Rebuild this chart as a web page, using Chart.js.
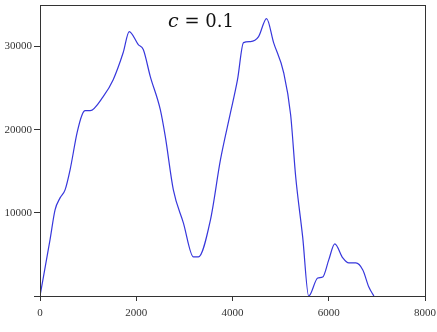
<!DOCTYPE html>
<html lang="en">
<head>
    <meta charset="UTF-8">
    <title>c = 0.1</title>
    <script src="https://cdn.jsdelivr.net/npm/chart.js"></script>
    <style>
        html, body {
            margin: 0;
            padding: 0;
            background: #fff;
        }
        #chartBox {
            width: 437px;
            height: 332px;
        }
    </style>
</head>
<body>
    <div id="chartBox">
        <canvas id="curveChart"></canvas>
    </div>

    <script>
        // values
        const xValues = [0, 208, 313, 417, 521, 625, 771, 875, 938, 1042, 1313, 1521, 1729, 1854,
            2042, 2146, 2292, 2500, 2604, 2771, 2979, 3188, 3292, 3542, 3750, 3958, 4104, 4229,
            4375, 4542, 4708, 4854, 5063, 5208, 5313, 5458, 5583, 5771, 5875, 6000, 6125, 6292,
            6417, 6563, 6708, 6833, 6938];
        const yValues = [0, 6750, 10360, 11800, 12770, 15180, 19640, 21800, 22290, 22290, 23980, 26020, 29280, 31800,
            30240, 29640, 26390, 22410, 19160, 12770, 8800, 4700, 4700, 9160, 16390, 22050, 26020, 30480,
            30600, 31200, 33370, 30480, 26870, 21800, 14340, 7110, 0, 2170, 2290, 4340, 6270, 4580,
            3980, 3980, 3130, 1080, 0];
        const xTicks = [0, 2000, 4000, 6000, 8000];
        const yTicks = [0, 10000, 20000, 30000];
        const titleMath = 'c';
        const titleRest = ' = 0.1';

        const points = xValues.map((x, i) => ({ x: x, y: yValues[i] }));

        // frame round the plot area + title inside it
        const framePlugin = {
            id: 'frame',
            afterDraw(chart) {
                const { ctx, chartArea } = chart;
                ctx.save();
                ctx.strokeStyle = '#333';
                ctx.lineWidth = 1;
                ctx.strokeRect(chartArea.left + 0.5, chartArea.top + 0.5,
                    chartArea.right - chartArea.left, chartArea.bottom - chartArea.top);

                ctx.fillStyle = '#111';
                ctx.textBaseline = 'alphabetic';
                ctx.font = 'italic 19px "DejaVu Serif", "Liberation Serif", serif';
                const w1 = ctx.measureText(titleMath).width;
                ctx.font = '18px "DejaVu Serif", "Liberation Serif", serif';
                const w2 = ctx.measureText(titleRest).width;
                let x = 201 - (w1 + w2) / 2;
                ctx.font = 'italic 19px "DejaVu Serif", "Liberation Serif", serif';
                ctx.fillText(titleMath, x, 27);
                ctx.font = '18px "DejaVu Serif", "Liberation Serif", serif';
                ctx.fillText(titleRest, x + w1, 27);
                ctx.restore();
            }
        };

        const tickFont = { family: '"Liberation Serif", "DejaVu Serif", serif', size: 11 };

        new Chart(document.getElementById('curveChart'), {
            type: 'line',
            data: {
                datasets: [{
                    data: points,
                    borderColor: 'rgb(55,55,220)',
                    borderWidth: 1.2,
                    pointRadius: 0,
                    cubicInterpolationMode: 'monotone',
                    fill: false
                }]
            },
            options: {
                responsive: true,
                maintainAspectRatio: false,
                animation: false,
                layout: { padding: { top: 5, right: 12, left: 0, bottom: 0 } },
                plugins: {
                    legend: { display: false },
                    tooltip: { enabled: false }
                },
                scales: {
                    x: {
                        type: 'linear',
                        min: 0,
                        max: 8000,
                        afterBuildTicks(scale) { scale.ticks = xTicks.map(v => ({ value: v })); },
                        afterFit(scale) {
                            scale.height = 36;
                            scale.paddingLeft = 0;
                            scale.paddingRight = 0;
                        },
                        grid: { drawOnChartArea: false, tickLength: 5, color: '#333' },
                        border: { color: '#333' },
                        ticks: { color: '#333', font: tickFont, padding: 6, maxRotation: 0,
                            callback: v => String(v) }
                    },
                    y: {
                        type: 'linear',
                        min: 0,
                        max: 35000,
                        afterBuildTicks(scale) { scale.ticks = yTicks.map(v => ({ value: v })); },
                        afterFit(scale) {
                            scale.width = 40;
                            scale.paddingTop = 0;
                            scale.paddingBottom = 0;
                        },
                        grid: { drawOnChartArea: false, tickLength: 6, color: '#333' },
                        border: { color: '#333' },
                        ticks: { color: '#333', font: tickFont, padding: 2,
                            callback: v => v === 0 ? '' : String(v) }
                    }
                }
            },
            plugins: [framePlugin]
        });
    </script>
</body>
</html>
